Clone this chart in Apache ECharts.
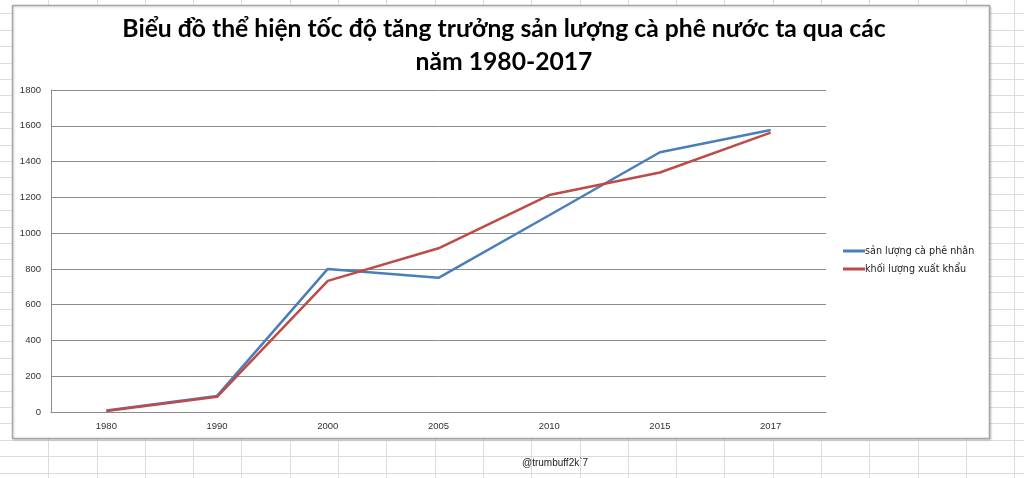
<!DOCTYPE html>
<html>
<head>
<meta charset="utf-8">
<script src="https://cdn.jsdelivr.net/npm/echarts@6/dist/echarts.min.js"></script>
<style>
html,body{margin:0;padding:0;width:1024px;height:478px;overflow:hidden;}
body{
  background-color:#ffffff;
  background-image:
    repeating-linear-gradient(to bottom, transparent 0px, transparent 15.4px, #dcdcdc 15.4px, #dcdcdc 16.4px),
    repeating-linear-gradient(to right, transparent 0px, transparent 47.3px, #dcdcdc 47.3px, #dcdcdc 48.3px);
  background-position: 0 -2px, 1px 0;
}
#main{position:absolute;left:0;top:0;width:1024px;height:478px;}
</style>
</head>
<body>
<div id="main"></div>
<script>
const categories = ['1980', '1990', '2000', '2005', '2010', '2015', '2017'];
const seriesNames = ['sản lượng cà phê nhân', 'khối lượng xuất khẩu'];
const sanLuong = [8, 90, 800, 750, 1100, 1452, 1576];
const xuatKhau = [5, 85, 733, 915, 1213, 1339, 1562];
const yTicks = { min: 0, max: 1800, interval: 200 };

const chart = echarts.init(document.getElementById('main'), null, { renderer: 'canvas' });
const font = '"Liberation Sans", Arial, sans-serif';
chart.setOption({
  backgroundColor: 'transparent',
  animation: false,
  graphic: [
    { type: 'rect', z: -10, silent: true,
      shape: { x: 12.5, y: 5.5, width: 977, height: 433 },
      style: { fill: '#ffffff', stroke: '#a6a6a6', lineWidth: 1.5,
               shadowColor: 'rgba(0,0,0,0.15)', shadowBlur: 2, shadowOffsetX: 1, shadowOffsetY: 1 } },
    { type: 'text', left: 522, top: 458, silent: true,
      style: { text: '@trumbuff2k`7', fill: '#222', font: '10px "Liberation Sans", Arial, sans-serif' } }
  ],
  title: {
    text: 'Biểu đồ thể hiện tốc độ tăng trưởng sản lượng cà phê nước ta qua các\nnăm 1980-2017',
    left: 499, top: 8, textAlign: 'center',
    textStyle: { fontSize: 24.7, fontWeight: 'bold', color: '#000', fontFamily: 'Lato, "Open Sans", sans-serif', lineHeight: 33 }
  },
  legend: {
    orient: 'vertical', left: 838, top: 241,
    icon: 'rect', itemWidth: 22, itemHeight: 3, itemGap: 8,
    textStyle: { fontSize: 9.6, color: '#222', fontFamily: '"DejaVu Sans", sans-serif', padding: [0, 0, 0, -5] },
    data: seriesNames
  },
  grid: { left: 51, right: 198, top: 90, bottom: 66, containLabel: false },
  xAxis: {
    type: 'category', data: categories, boundaryGap: true,
    axisLine: { lineStyle: { color: '#8c8c8c', width: 1 } },
    axisTick: { show: false },
    axisLabel: { fontSize: 9.5, color: '#333', margin: 9, fontFamily: font }
  },
  yAxis: {
    type: 'value', min: yTicks.min, max: yTicks.max, interval: yTicks.interval,
    axisLine: { show: true, lineStyle: { color: '#8c8c8c', width: 1 } },
    axisTick: { show: false },
    splitLine: { lineStyle: { color: '#8c8c8c', width: 1 } },
    axisLabel: { fontSize: 9.5, color: '#333', margin: 10, fontFamily: font,
                 formatter: function (v) { return String(v); } }
  },
  series: [
    { name: seriesNames[0], type: 'line', data: sanLuong, symbol: 'none',
      lineStyle: { color: '#4a7ebb', width: 2.5 }, itemStyle: { color: '#4a7ebb' } },
    { name: seriesNames[1], type: 'line', data: xuatKhau, symbol: 'none',
      lineStyle: { color: '#be4b48', width: 2.5 }, itemStyle: { color: '#be4b48' } }
  ]
});
</script>
</body>
</html>
